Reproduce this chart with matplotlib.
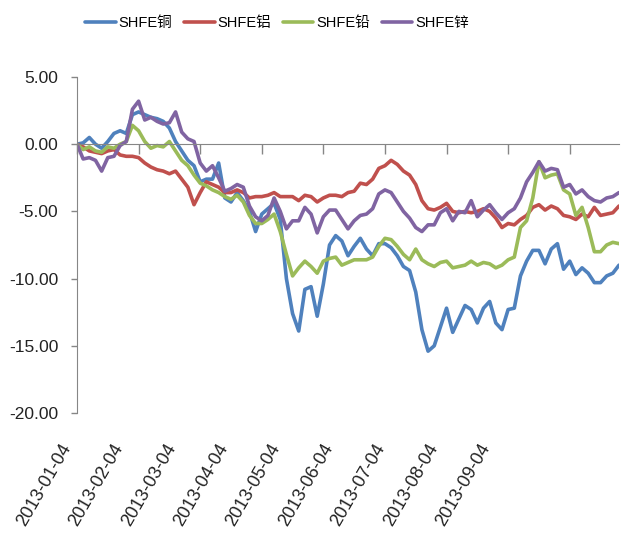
import matplotlib
matplotlib.use("Agg")
import matplotlib.pyplot as plt
import matplotlib.transforms as mtransforms
import numpy as np

# 期货价格累计涨跌幅(%)，约每两个交易日取一个点
copper = [0.0, 0.1, 0.5, 0.0, -0.3, 0.2, 0.8, 1.0, 0.8, 2.2,
          2.4, 2.2, 2.0, 1.9, 1.7, 1.2, 0.2, -0.5, -1.2, -1.6,
          -2.8, -2.6, -2.6, -1.4, -4.0, -4.3, -3.6, -4.2, -5.0, -6.5,
          -5.2, -4.8, -4.4, -5.6, -10.0, -12.6, -13.9, -10.8, -10.6, -12.8,
          -10.4, -7.5, -6.8, -7.2, -8.3, -7.6, -7.0, -7.8, -8.3, -7.4,
          -7.4, -7.7, -8.3, -9.1, -9.4, -11.0, -13.8, -15.4, -15.0, -13.6,
          -12.2, -14.0, -13.0, -12.0, -12.3, -13.3, -12.2, -11.7, -13.3, -13.8,
          -12.3, -12.2, -9.8, -8.7, -7.9, -7.9, -8.9, -7.8, -7.4, -9.3,
          -8.7, -9.7, -9.2, -9.6, -10.3, -10.3, -9.8, -9.6, -9.0]
aluminium = [0.0, -0.2, -0.5, -0.6, -0.7, -0.5, -0.4, -0.8, -0.9, -0.9,
             -1.0, -1.4, -1.7, -1.9, -2.0, -2.2, -2.0, -2.6, -3.2, -4.5,
             -3.6, -2.8, -3.0, -3.2, -3.6, -3.6, -3.4, -3.6, -4.0, -3.9,
             -3.9, -3.8, -3.6, -3.9, -3.9, -3.9, -4.2, -3.8, -3.9, -4.3,
             -4.0, -3.8, -3.8, -3.9, -3.6, -3.5, -2.9, -3.0, -2.6, -1.8,
             -1.6, -1.2, -1.5, -2.0, -2.3, -3.0, -4.2, -4.8, -4.9, -4.7,
             -4.4, -5.0, -5.1, -5.0, -5.1, -5.0, -4.8, -5.0, -5.5, -6.2,
             -5.9, -6.0, -5.6, -5.3, -4.7, -4.5, -4.9, -4.6, -4.8, -5.3,
             -5.4, -5.6, -5.2, -5.4, -4.7, -5.3, -5.2, -5.1, -4.6]
lead = [0.0, -0.4, -0.2, -0.5, -0.6, -0.2, -0.3, 0.0, 0.2, 1.4,
        1.0, 0.2, -0.3, -0.1, -0.2, 0.2, -0.5, -1.2, -1.6, -2.3,
        -2.9, -3.1, -3.4, -3.6, -3.9, -4.1, -3.8, -4.3, -5.3, -5.9,
        -5.9, -5.6, -5.2, -6.5, -8.2, -9.8, -9.2, -8.7, -9.1, -9.6,
        -8.7, -8.5, -8.4, -9.0, -8.8, -8.6, -8.6, -8.6, -8.4, -7.6,
        -7.0, -7.1, -7.6, -8.2, -8.6, -7.8, -8.6, -8.9, -9.1, -8.8,
        -8.7, -9.2, -9.1, -9.0, -8.7, -9.0, -8.8, -8.9, -9.2, -9.0,
        -8.6, -8.4, -6.2, -5.7, -4.0, -1.3, -2.5, -2.3, -2.2, -3.4,
        -3.7, -5.3, -4.7, -6.2, -8.0, -8.0, -7.5, -7.3, -7.4]
zinc = [0.0, -1.1, -1.0, -1.2, -2.0, -1.0, -0.9, -0.1, 0.2, 2.6,
        3.2, 1.8, 2.0, 1.7, 1.5, 1.6, 2.4, 0.9, 0.4, 0.2,
        -1.4, -2.0, -1.6, -2.5, -3.5, -3.3, -3.0, -3.2, -4.6, -5.4,
        -5.7, -5.3, -4.0, -5.0, -6.3, -5.7, -5.7, -4.7, -5.2, -6.6,
        -5.4, -4.9, -4.9, -5.6, -6.3, -5.7, -5.3, -5.2, -4.8, -3.7,
        -3.4, -3.6, -4.3, -5.0, -5.5, -6.2, -6.5, -6.0, -6.0, -5.1,
        -4.8, -5.7, -5.0, -5.1, -4.2, -5.4, -4.9, -4.5, -5.1, -5.6,
        -5.1, -4.8, -4.0, -2.8, -2.1, -1.3, -2.0, -1.8, -1.9, -3.2,
        -3.0, -3.7, -3.4, -3.9, -4.2, -4.3, -4.0, -3.9, -3.6]

series_names = ["SHFE铜", "SHFE铝", "SHFE铅", "SHFE锌"]
colors = ["#4F81BD", "#C0504D", "#9BBB59", "#8064A2"]
date_labels = ["2013-01-04", "2013-02-04", "2013-03-04", "2013-04-04", "2013-05-04",
               "2013-06-04", "2013-07-04", "2013-08-04", "2013-09-04"]

plt.rcParams["font.family"] = ["Liberation Sans", "Noto Sans CJK SC", "DejaVu Sans"]

fig = plt.figure(figsize=(6.21, 5.41), dpi=100)
ax = fig.add_axes([77 / 621, 1 - 413 / 541, 542 / 621, 336 / 541])

x = np.arange(len(copper))
for vals, name, c in zip([copper, aluminium, lead, zinc], series_names, colors):
    ax.plot(x, vals, color=c, lw=2.6, label=name,
            solid_joinstyle="round", solid_capstyle="round")

ax.set_xlim(0, len(copper) - 1)
ax.set_ylim(-20, 5)
ax.set_yticks(np.arange(-20, 6, 5))
ax.set_yticklabels([f"{v:.2f}" for v in np.arange(-20, 6, 5)])

axis_gray = "#868686"
for s in ["top", "right"]:
    ax.spines[s].set_visible(False)
ax.spines["left"].set_color(axis_gray)
ax.spines["bottom"].set_color(axis_gray)
ax.spines["bottom"].set_position(("data", 0))
ax.tick_params(axis="y", direction="out", length=4.5, width=1, color=axis_gray,
               pad=9, labelsize=12.5, labelcolor="#222222")
ax.set_xticks(np.arange(0, len(copper), 10))
ax.tick_params(axis="x", direction="out", length=7, width=1, color=axis_gray,
               labelbottom=False)

# 日期标签放在图表底部
label_pos = np.arange(len(date_labels)) * 8.5
offset = mtransforms.ScaledTranslation(-17 / 100, -28 / 100, fig.dpi_scale_trans)
for p, lab in zip(label_pos, date_labels):
    ax.text(p, 0, lab, transform=ax.get_xaxis_transform() + offset,
            rotation=60, rotation_mode="anchor", ha="right", va="top",
            fontsize=13, color="#222222")

fig.legend(loc="center", bbox_to_anchor=(277 / 621, 1 - 23 / 541), ncol=4,
           frameon=False, fontsize=10.5, handlelength=2.1, handletextpad=0.2,
           columnspacing=0.8)

fig.savefig("out.png", dpi=100)
